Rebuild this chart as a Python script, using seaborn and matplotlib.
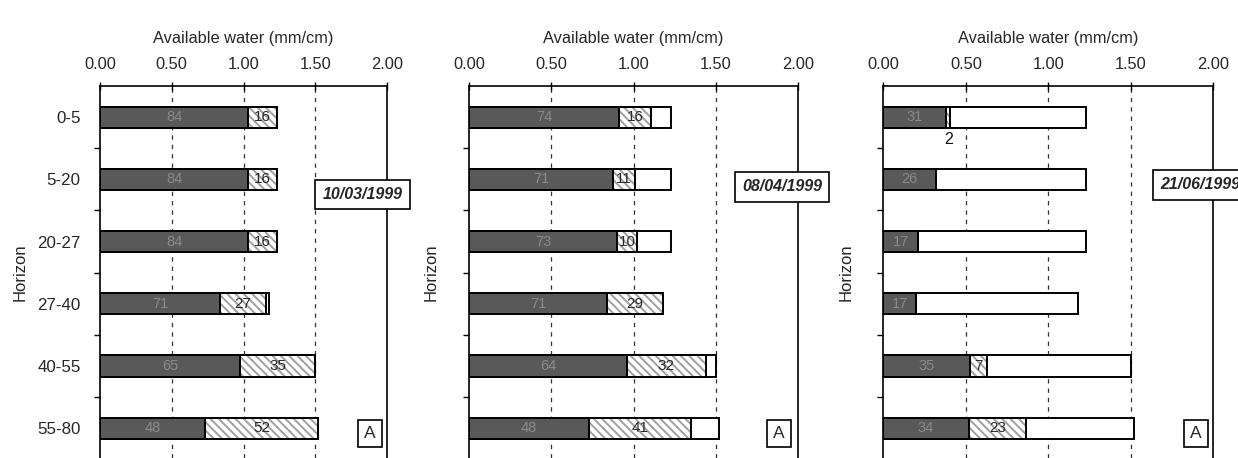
import numpy as np
import pandas as pd
import matplotlib
matplotlib.use('Agg')
import matplotlib.pyplot as plt
import matplotlib.transforms as mtransforms
from matplotlib.ticker import FixedLocator
import seaborn as sns

sns.set_style('white')
plt.rcParams['font.family'] = ['Liberation Sans', 'DejaVu Sans']
plt.rcParams['hatch.linewidth'] = 1.4
plt.rcParams['hatch.color'] = '#a0a0a0'

# ---- data --------------------------------------------------------------
horizons = ['0-5', '5-20', '20-27', '27-40', '40-55', '55-80']
total_water = [1.23, 1.23, 1.23, 1.18, 1.50, 1.52]   # mm/cm, full bar length
dates = ['10/03/1999', '08/04/1999', '21/06/1999']
dark_pct = [[84, 84, 84, 71, 65, 48],
            [74, 71, 73, 71, 64, 48],
            [31, 26, 17, 17, 35, 34]]
hatch_pct = [[16, 16, 16, 27, 35, 52],
             [16, 11, 10, 29, 32, 41],
             [2, 0, 0, 0, 7, 23]]
x_ticks = [0.0, 0.5, 1.0, 1.5, 2.0]
panel_tag = 'A'

# ---- layout -------------------------------------------------------------
axes_rects = [[0.0808, 0.0, 0.2318, 0.812],
              [0.3791, 0.0, 0.2653, 0.812],
              [0.7135, 0.0, 0.2666, 0.812]]
date_xy = [(0.915, 1.24), (0.952, 1.12), (0.96, 1.09)]
tag_xy = [(0.94, 5.09), (0.942, 5.09), (0.948, 5.09)]
ylabel_x = [-72 / 287, -31 / 328.4, -30 / 330]

DARK = '#595959'
LW = 1.4


def draw_panel(ax, i):
    tot = np.array(total_water)
    dk = tot * np.array(dark_pct[i]) / 100
    dh = tot * (np.array(dark_pct[i]) + np.array(hatch_pct[i])) / 100
    df = pd.DataFrame({'horizon': horizons, 'total': tot, 'dark': dk, 'dh': dh})

    common = dict(data=df, y='horizon', orient='h', width=0.34, errorbar=None,
                  saturation=1, ax=ax)
    # full bar (white remainder)
    sns.barplot(x='total', color='white', edgecolor='black', linewidth=LW, **common)
    # hatched part
    sns.barplot(x='dh', color='white', edgecolor='#a0a0a0', linewidth=0,
                hatch='\\\\\\\\', **common)
    sns.barplot(x='dh', fill=False, color='black', linewidth=LW, **common)
    # dark part
    sns.barplot(x='dark', color=DARK, edgecolor='black', linewidth=LW, **common)

    # value labels
    for j in range(len(horizons)):
        d, h = dark_pct[i][j], hatch_pct[i][j]
        ax.text(dk[j] / 2, j, str(d), ha='center', va='center',
                color='#8a8a8a', fontsize=10.5, zorder=5)
        hw = dh[j] - dk[j]
        if h >= 5:
            ax.text(dk[j] + hw / 2, j, str(h), ha='center', va='center',
                    color='#2a2a2a', fontsize=11, zorder=5)
        elif h > 0:
            ax.text(dk[j] + hw / 2, j + 0.36, str(h), ha='center', va='center',
                    color='#111111', fontsize=11.5, zorder=5)

    # dashed grid
    for x in x_ticks[1:-1]:
        ax.axvline(x, color='#333333', lw=0.9, ls=(0, (3.5, 4)), zorder=0.5)

    ax.set_xlim(0, 2.0)
    ax.set_ylim(5.48, -0.5)

    ax.xaxis.tick_top()
    ax.xaxis.set_label_position('top')
    ax.set_xticks(x_ticks)
    ax.set_xticklabels([f'{v:.2f}' for v in x_ticks])
    ax.tick_params(axis='x', which='major', top=True, bottom=False,
                   direction='inout', length=6, width=1, color='black',
                   labelsize=11.8, pad=7)
    ax.set_xlabel('Available water (mm/cm)', fontsize=11.8, labelpad=10)

    ax.set_yticks(range(len(horizons)))
    if i == 0:
        ax.set_yticklabels(horizons)
    else:
        ax.set_yticklabels([])
    ax.yaxis.set_minor_locator(FixedLocator([k + 0.5 for k in range(len(horizons) - 1)]))
    ax.tick_params(axis='y', which='major', left=False, length=0, pad=14,
                   labelsize=12.2)
    ax.tick_params(axis='y', which='minor', left=True, direction='out',
                   length=4, width=1, color='black')
    ax.set_ylabel('Horizon', fontsize=12)
    ax.yaxis.set_label_coords(ylabel_x[i], 0.5)

    for side in ['top', 'left', 'right']:
        ax.spines[side].set_visible(True)
        ax.spines[side].set_color('black')
        ax.spines[side].set_linewidth(1.2)
    ax.spines['bottom'].set_visible(False)

    trans = mtransforms.blended_transform_factory(ax.transAxes, ax.transData)
    ax.text(date_xy[i][0], date_xy[i][1], dates[i], transform=trans,
            ha='center', va='center', fontsize=11.5, fontweight='bold',
            fontstyle='italic', clip_on=False, zorder=10,
            bbox=dict(boxstyle='square,pad=0.45', fc='white', ec='black', lw=1.2))
    ax.text(tag_xy[i][0], tag_xy[i][1], panel_tag, transform=trans,
            ha='center', va='center', fontsize=12.5, clip_on=False, zorder=10,
            bbox=dict(boxstyle='square,pad=0.35', fc='white', ec='black', lw=1.2))


def main():
    fig = plt.figure(figsize=(12.38, 4.58), dpi=100)
    for i, rect in enumerate(axes_rects):
        ax = fig.add_axes(rect)
        draw_panel(ax, i)
    fig.savefig('out.png', dpi=100)


if __name__ == '__main__':
    main()
